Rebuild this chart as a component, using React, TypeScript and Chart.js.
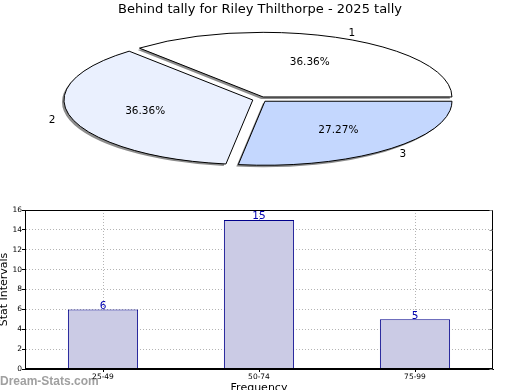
import { useEffect, useRef } from "react";
import { Chart, registerables } from "chart.js";

Chart.register(...registerables);

const TITLE = "Behind tally for Riley Thilthorpe - 2025 tally";
const pieLabels = ["1", "2", "3"];
const pieValues = [4, 4, 3];
const pieColors = ["#ffffff", "#eaf0fe", "#c4d7fe"];

const barCategories = ["25-49", "50-74", "75-99"];
const barValues = [6, 15, 5];
const yAxisTitle = "Stat Intervals";
const xAxisTitle = "Frequency";
const watermark = "Dream-Stats.com";

const FONT = "'DejaVu Sans', sans-serif";
// pie placement (ellipse)
const PCX = 260;
const PCY = 99.3;
const PR = 187;
const PS = 64 / 187;

function pieTransform(ctx: CanvasRenderingContext2D, ox: number, oy: number) {
  ctx.translate(PCX, PCY);
  ctx.scale(1, -PS);
  ctx.translate(-ox, -oy);
}

const piePlugin = {
  id: "ellipsePie",
  beforeDatasetsDraw(chart: any) {
    const ctx = chart.ctx as CanvasRenderingContext2D;
    const el = chart.getDatasetMeta(0).data[0];
    ctx.save();
    pieTransform(ctx, el.x, el.y);
    ctx.shadowColor = "rgba(0,0,0,0.45)";
    ctx.shadowOffsetX = -2;
    ctx.shadowOffsetY = 2;
    ctx.shadowBlur = 0;
  },
  afterDatasetsDraw(chart: any) {
    const ctx = chart.ctx as CanvasRenderingContext2D;
    ctx.restore();
    const meta = chart.getDatasetMeta(0);
    const total = pieValues.reduce((a, b) => a + b, 0);
    meta.data.forEach((el: any, i: number) => {
      const start = el.startAngle;
      const end = el.endAngle;
      const half = (start + end) / 2;
      const off = (el.options.offset || 0) / 4;
      const fix = 1 - Math.sin(Math.min(Math.PI, end - start));
      const r = el.outerRadius + off * fix;
      const cx = el.x + Math.cos(half) * off;
      const cy = el.y + Math.sin(half) * off;
      // outline with an untransformed line width
      ctx.save();
      pieTransform(ctx, el.x, el.y);
      ctx.beginPath();
      ctx.moveTo(cx, cy);
      ctx.arc(cx, cy, r, start, end);
      ctx.closePath();
      ctx.restore();
      ctx.save();
      ctx.lineWidth = 1;
      ctx.strokeStyle = "#000";
      ctx.stroke();
      ctx.restore();

      const map = (k: number) => {
        const px = el.x + Math.cos(half) * (off + el.outerRadius * k);
        const py = el.y + Math.sin(half) * (off + el.outerRadius * k);
        return [PCX + (px - el.x), PCY - (py - el.y) * PS];
      };
      ctx.save();
      ctx.fillStyle = "#000";
      ctx.textBaseline = "middle";
      ctx.font = `10.5px ${FONT}`;
      const [lx, ly] = map(1.1);
      ctx.textAlign = Math.cos(half) > 0 ? "left" : "right";
      ctx.fillText(pieLabels[i], lx, ly);
      const [tx, ty] = map(0.6);
      ctx.textAlign = "center";
      ctx.fillText(((pieValues[i] / total) * 100).toFixed(2) + "%", tx, ty);
      ctx.restore();
    });
  },
};

const barPlugin = {
  id: "barExtras",
  beforeDraw(chart: any) {
    const ctx = chart.ctx as CanvasRenderingContext2D;
    ctx.save();
    ctx.fillStyle = "#a0a0a0";
    ctx.font = `bold 12px 'Liberation Sans', Arial, sans-serif`;
    ctx.textAlign = "left";
    ctx.textBaseline = "alphabetic";
    ctx.fillText(watermark, 0, 385);
    ctx.restore();
  },
  afterDatasetsDraw(chart: any) {
    const ctx = chart.ctx as CanvasRenderingContext2D;
    const meta = chart.getDatasetMeta(0);
    ctx.save();
    ctx.fillStyle = "#0000b0";
    ctx.font = `10.5px ${FONT}`;
    ctx.textAlign = "center";
    ctx.textBaseline = "bottom";
    meta.data.forEach((el: any, i: number) => {
      ctx.fillText(String(barValues[i]), el.x, el.y + 2);
    });
    ctx.restore();
  },
  afterDraw(chart: any) {
    const ctx = chart.ctx as CanvasRenderingContext2D;
    const a = chart.chartArea;
    ctx.save();
    ctx.strokeStyle = "#000";
    ctx.lineWidth = 1;
    const l = Math.round(a.left) + 0.5;
    const t = Math.round(a.top) + 0.5;
    const r = Math.round(a.right) - 0.5;
    const b = Math.round(a.bottom) - 0.5;
    ctx.strokeRect(l, t, r - l, b - t);
    const ys = chart.scales.y;
    ctx.beginPath();
    ys.ticks.forEach((tk: any) => {
      const y = Math.round(ys.getPixelForValue(tk.value)) + 0.5;
      ctx.moveTo(r, y);
      ctx.lineTo(r - 3, y);
    });
    ctx.strokeStyle = "#888";
    ctx.stroke();
    ctx.restore();
  },
};

export default function App() {
  const pieRef = useRef<HTMLCanvasElement | null>(null);
  const barRef = useRef<HTMLCanvasElement | null>(null);

  useEffect(() => {
    Chart.defaults.font.family = FONT;
    Chart.defaults.color = "#000";

    const bar = new Chart(barRef.current as HTMLCanvasElement, {
      type: "bar",
      data: {
        labels: barCategories,
        datasets: [
          {
            data: barValues,
            backgroundColor: "#cbcbe5",
            borderColor: "#00008b",
            borderWidth: 1,
            barPercentage: 0.45,
            categoryPercentage: 1,
          },
        ],
      },
      options: {
        animation: false,
        responsive: false,
        events: [],
        layout: { padding: { top: 210, right: 27, left: 0, bottom: 0 } },
        plugins: { legend: { display: false }, tooltip: { enabled: false }, title: { display: false } },
        scales: {
          x: {
            grid: { color: "#b4b4b4", offset: false, tickLength: 3, tickColor: "#000" },
            border: { dash: [1, 2], color: "#000" },
            ticks: { font: { size: 7.5 }, color: "#000", padding: 1, maxRotation: 0 },
            title: { display: true, text: xAxisTitle, font: { size: 11 }, padding: { top: 0, bottom: -5 } },
            afterFit: (s: any) => {
              s.height = 21;
            },
          },
          y: {
            min: 0,
            max: 16,
            grid: { color: "#b4b4b4", tickLength: 3, tickColor: "#000" },
            border: { dash: [1, 2], color: "#000" },
            ticks: { stepSize: 2, font: { size: 7.5 }, color: "#000", padding: 0 },
            title: { display: true, text: yAxisTitle, font: { size: 11, lineHeight: 1 }, padding: { top: -1, bottom: 0 } },
            afterFit: (s: any) => {
              s.width = 25;
            },
          },
        },
      } as any,
      plugins: [barPlugin],
    });

    const pie = new Chart(pieRef.current as HTMLCanvasElement, {
      type: "pie",
      data: {
        labels: pieLabels,
        datasets: [
          {
            data: pieValues,
            backgroundColor: pieColors,
            borderWidth: 0,
            offset: 30,
            hoverOffset: 0,
            radius: PR,
            clip: false,
          } as any,
        ],
      },
      options: {
        animation: false,
        responsive: false,
        events: [],
        rotation: 90,
        plugins: {
          legend: { display: false },
          tooltip: { enabled: false },
          title: {
            display: true,
            text: TITLE,
            color: "#000",
            font: { size: 13, weight: "normal" },
            padding: { top: 2, bottom: 0 },
          },
        },
      } as any,
      plugins: [piePlugin],
    });

    return () => {
      pie.destroy();
      bar.destroy();
    };
  }, []);

  const canvasStyle: any = { position: "absolute", left: 0, top: 0, width: 520, height: 390 };
  return (
    <div style={{ position: "absolute", left: 0, top: 0, width: 520, height: 390, background: "#fff" }}>
      <canvas ref={barRef} width={520} height={390} style={canvasStyle} />
      <canvas ref={pieRef} width={520} height={390} style={canvasStyle} />
    </div>
  );
}
